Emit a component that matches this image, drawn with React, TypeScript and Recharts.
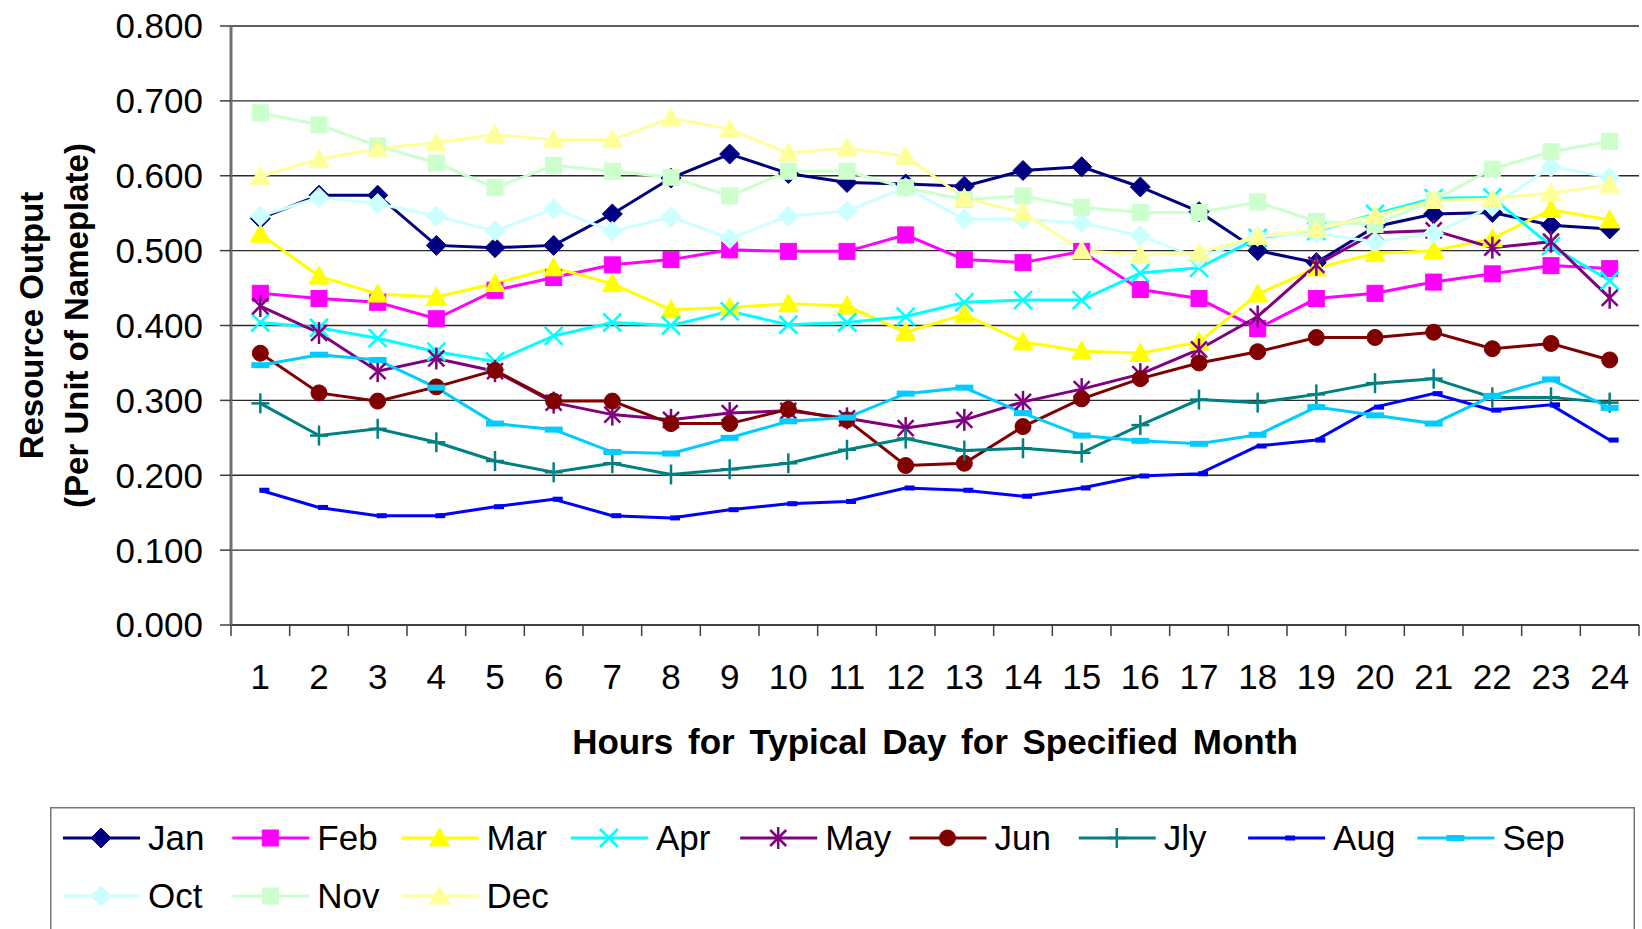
import React from 'react';
import { LineChart, Line, XAxis, YAxis, CartesianGrid, Legend } from 'recharts';

const FONT = '"Liberation Sans", Arial, Helvetica, sans-serif';

const hours = ['1','2','3','4','5','6','7','8','9','10','11','12','13','14','15','16','17','18','19','20','21','22','23','24'];
const yTicks = [0, 0.1, 0.2, 0.3, 0.4, 0.5, 0.6, 0.7, 0.8];

const jan = [0.543,0.574,0.574,0.507,0.504,0.507,0.549,0.597,0.629,0.603,0.591,0.589,0.586,0.607,0.612,0.585,0.552,0.500,0.484,0.532,0.549,0.551,0.534,0.529];
const feb = [0.443,0.436,0.431,0.409,0.447,0.464,0.481,0.488,0.501,0.499,0.499,0.521,0.488,0.484,0.499,0.448,0.436,0.396,0.436,0.443,0.458,0.469,0.480,0.476];
const mar = [0.522,0.466,0.442,0.438,0.456,0.477,0.456,0.421,0.424,0.429,0.426,0.391,0.415,0.378,0.366,0.363,0.378,0.442,0.477,0.496,0.500,0.516,0.555,0.541];
const apr = [0.404,0.397,0.383,0.365,0.352,0.386,0.404,0.400,0.419,0.401,0.404,0.412,0.431,0.434,0.434,0.470,0.477,0.517,0.526,0.549,0.570,0.571,0.506,0.460];
const may = [0.426,0.390,0.339,0.356,0.339,0.297,0.281,0.274,0.283,0.286,0.276,0.263,0.274,0.298,0.315,0.335,0.368,0.412,0.481,0.524,0.527,0.504,0.512,0.437];
const jun = [0.363,0.310,0.299,0.318,0.340,0.299,0.299,0.269,0.269,0.288,0.274,0.213,0.216,0.265,0.302,0.329,0.350,0.365,0.384,0.384,0.391,0.369,0.376,0.354];
const jly = [0.296,0.253,0.262,0.244,0.219,0.204,0.216,0.201,0.208,0.216,0.234,0.249,0.233,0.236,0.230,0.267,0.301,0.297,0.308,0.323,0.329,0.304,0.304,0.297];
const aug = [0.180,0.157,0.146,0.146,0.158,0.168,0.146,0.143,0.154,0.162,0.165,0.183,0.180,0.172,0.183,0.199,0.202,0.239,0.247,0.291,0.309,0.287,0.294,0.247];
const sep = [0.347,0.361,0.354,0.317,0.269,0.261,0.231,0.229,0.250,0.272,0.277,0.309,0.317,0.283,0.253,0.246,0.242,0.254,0.291,0.280,0.269,0.306,0.328,0.290];
const oct = [0.546,0.571,0.563,0.546,0.526,0.556,0.526,0.545,0.516,0.546,0.553,0.584,0.542,0.542,0.537,0.520,0.490,0.519,0.523,0.512,0.523,0.559,0.612,0.598];
const nov = [0.684,0.668,0.640,0.617,0.584,0.614,0.606,0.598,0.573,0.606,0.606,0.584,0.568,0.573,0.558,0.551,0.551,0.565,0.539,0.535,0.567,0.609,0.632,0.646];
const dec = [0.599,0.622,0.636,0.644,0.655,0.648,0.648,0.677,0.662,0.630,0.637,0.626,0.570,0.551,0.500,0.494,0.497,0.519,0.528,0.547,0.567,0.569,0.577,0.588];

const seriesNames = ['Jan','Feb','Mar','Apr','May','Jun','Jly','Aug','Sep','Oct','Nov','Dec'];
const seriesValues = [jan, feb, mar, apr, may, jun, jly, aug, sep, oct, nov, dec];
const seriesColors = ['#000080','#FF00FF','#FFFF00','#00FFFF','#800080','#800000','#008080','#0000FF','#00CCFF','#CCFFFF','#CCFFCC','#FFFF99'];
const seriesMarkers = ['diamond','square','triangle','x','star','circle','plus','shortDash','longDash','diamond','square','triangle'];

const data = hours.map((h, i) => {
  const row: Record<string, any> = { hour: h };
  seriesNames.forEach((n, k) => { row[n] = seriesValues[k][i]; });
  return row;
});

function Marker({ kind, cx, cy, color }: { kind: string; cx: number; cy: number; color: string }) {
  if (cx == null || cy == null || isNaN(cx) || isNaN(cy)) return null;
  switch (kind) {
    case 'diamond':
      return <polygon points={`${cx},${cy - 10} ${cx + 10},${cy} ${cx},${cy + 10} ${cx - 10},${cy}`} fill={color} stroke={color} strokeWidth={1} />;
    case 'square':
      return <rect x={cx - 8} y={cy - 8} width={16} height={16} fill={color} stroke={color} strokeWidth={1} />;
    case 'triangle':
      return <polygon points={`${cx},${cy - 10} ${cx + 10},${cy + 8} ${cx - 10},${cy + 8}`} fill={color} stroke={color} strokeWidth={1} />;
    case 'x':
      return (
        <g stroke={color} strokeWidth={2.5}>
          <line x1={cx - 9} y1={cy - 9} x2={cx + 9} y2={cy + 9} />
          <line x1={cx - 9} y1={cy + 9} x2={cx + 9} y2={cy - 9} />
        </g>
      );
    case 'star':
      return (
        <g stroke={color} strokeWidth={2.5}>
          <line x1={cx - 8} y1={cy - 8} x2={cx + 8} y2={cy + 8} />
          <line x1={cx - 8} y1={cy + 8} x2={cx + 8} y2={cy - 8} />
          <line x1={cx} y1={cy - 11} x2={cx} y2={cy + 11} />
        </g>
      );
    case 'circle':
      return <circle cx={cx} cy={cy} r={8} fill={color} stroke={color} strokeWidth={1} />;
    case 'plus':
      return (
        <g stroke={color} strokeWidth={2.5}>
          <line x1={cx} y1={cy - 10} x2={cx} y2={cy + 10} />
          <line x1={cx - 9} y1={cy} x2={cx + 9} y2={cy} />
        </g>
      );
    case 'shortDash':
      return <rect x={cx - 1} y={cy - 2.5} width={10} height={5} fill={color} />;
    case 'longDash':
      return <rect x={cx - 9} y={cy - 3} width={18} height={6} fill={color} />;
    default:
      return null;
  }
}

const X_TICK_SIZE = 11;
const X_TICK_MARGIN = 40;

function XTick(props: any) {
  const { x, y, payload, index, visibleTicksCount } = props;
  const half = payload && typeof payload.offset === 'number' ? payload.offset : 0;
  const axisY = y - X_TICK_SIZE - X_TICK_MARGIN;
  const last = index === (visibleTicksCount ?? hours.length) - 1;
  return (
    <g>
      <line x1={x - half} x2={x - half} y1={axisY} y2={axisY + X_TICK_SIZE} stroke="#404040" strokeWidth={1.5} />
      {last && <line x1={x + half} x2={x + half} y1={axisY} y2={axisY + X_TICK_SIZE} stroke="#404040" strokeWidth={1.5} />}
      <text x={x} y={y} textAnchor="middle" dominantBaseline="central" fontSize={35} fontFamily={FONT} fill="#000">
        {payload.value}
      </text>
    </g>
  );
}

function YTitle(props: any) {
  const vb = props.viewBox || { x: 0, y: 26, width: 231, height: 599 };
  const cy = vb.y + vb.height / 2;
  const cx1 = vb.x + 31;
  const cx2 = vb.x + 76;
  return (
    <g fontFamily={FONT} fontWeight="bold" fontSize={33} fill="#000">
      <text x={cx1} y={cy} transform={`rotate(-90 ${cx1} ${cy})`} textAnchor="middle" dominantBaseline="central">Resource Output</text>
      <text x={cx2} y={cy} transform={`rotate(-90 ${cx2} ${cy})`} textAnchor="middle" dominantBaseline="central">(Per Unit of Nameplate)</text>
    </g>
  );
}

function XTitle(props: any) {
  const vb = props.viewBox || { x: 231, y: 625, width: 1408, height: 180 };
  const cx = vb.x + vb.width / 2;
  const cy = vb.y + 116;
  return (
    <text x={cx} y={cy} textAnchor="middle" dominantBaseline="central" fontFamily={FONT} fontWeight="bold" fontSize={35} wordSpacing={5} fill="#000">
      Hours for Typical Day for Specified Month
    </text>
  );
}

function LegendBox() {
  const colW = 169.3;
  return (
    <svg width={1585} height={122} style={{ display: 'block', overflow: 'visible' }}>
      <path d="M0.75 122 V0.75 H1584.25 V122" fill="none" stroke="#777" strokeWidth={1.5} />
      {seriesNames.map((name, i) => {
        const col = i % 9;
        const row = Math.floor(i / 9);
        const x0 = 13 + col * colW;
        const y = 31 + row * 58;
        const color = seriesColors[i];
        return (
          <g key={name}>
            <line x1={x0} x2={x0 + 77} y1={y} y2={y} stroke={color} strokeWidth={3} />
            <Marker kind={seriesMarkers[i]} cx={x0 + 38} cy={y} color={color} />
            <text x={x0 + 85} y={y + 12} fontSize={35} fontFamily={FONT} fill="#000">{name}</text>
          </g>
        );
      })}
    </svg>
  );
}

export default function App() {
  return (
    <div style={{ position: 'absolute', left: 0, top: 0, width: 1642, height: 929, background: '#fff' }}>
      <LineChart width={1642} height={929} data={data} margin={{ top: 26, right: 3, bottom: 124, left: 0 }}>
        <CartesianGrid vertical={false} stroke="#2a2a2a" strokeWidth={1.3} />
        <XAxis
          dataKey="hour"
          type="category"
          scale="band"
          interval={0}
          height={180}
          tickSize={X_TICK_SIZE}
          tickMargin={X_TICK_MARGIN}
          tickLine={false}
          tick={<XTick />}
          axisLine={{ stroke: '#404040', strokeWidth: 2 }}
          label={{ content: (p: any) => <XTitle {...p} /> }}
        />
        <XAxis
          xAxisId="top"
          orientation="top"
          dataKey="hour"
          type="category"
          scale="band"
          height={0}
          tick={false}
          tickLine={false}
          axisLine={{ stroke: '#8a8a8a', strokeWidth: 3 }}
        />
        <YAxis
          type="number"
          domain={[0, 0.8]}
          ticks={yTicks}
          interval={0}
          allowDataOverflow
          width={231}
          tickSize={11}
          tickMargin={17}
          tickFormatter={(v: number) => v.toFixed(3)}
          tick={{ fontSize: 35, fill: '#000', fontFamily: FONT }}
          tickLine={{ stroke: '#404040', strokeWidth: 1.5 }}
          axisLine={{ stroke: '#707070', strokeWidth: 3 }}
          label={{ content: (p: any) => <YTitle {...p} /> }}
        />
        <YAxis
          yAxisId="right"
          orientation="right"
          type="number"
          domain={[0, 0.8]}
          width={0}
          tick={false}
          tickLine={false}
          axisLine={{ stroke: '#8a8a8a', strokeWidth: 3 }}
        />
        {seriesNames.map((name, k) => (
          <Line
            key={name}
            dataKey={name}
            name={name}
            type="linear"
            stroke={seriesColors[k]}
            strokeWidth={3}
            activeDot={false}
            isAnimationActive={false}
            dot={(p: any) => (
              <Marker key={`${name}-${p.index}`} kind={seriesMarkers[k]} cx={p.cx} cy={p.cy} color={seriesColors[k]} />
            )}
          />
        ))}
        <Legend
          layout="horizontal"
          verticalAlign="middle"
          align="center"
          content={() => <LegendBox />}
          wrapperStyle={{ left: 50, top: 807, width: 1585, height: 122 }}
        />
      </LineChart>
    </div>
  );
}
